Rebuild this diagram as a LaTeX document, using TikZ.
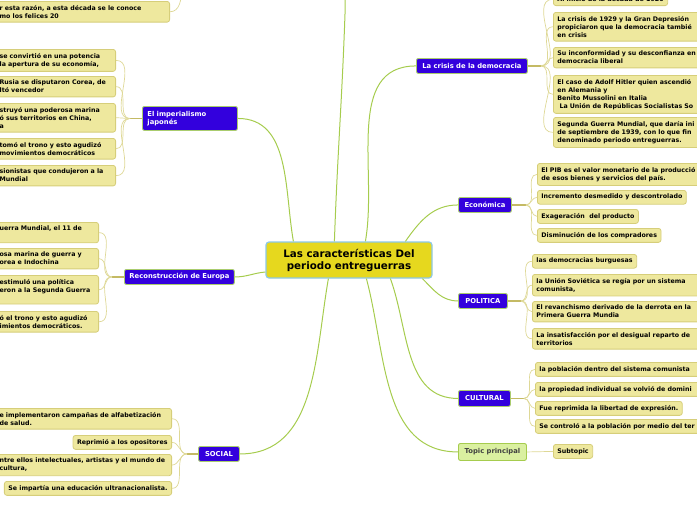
\documentclass[tikz,border=0pt]{standalone}
\usepackage{fontspec}
\setmainfont{DejaVu Sans}
\usetikzlibrary{positioning,calc}

\definecolor{rootbg}{RGB}{230,216,30}
\definecolor{rootbd}{RGB}{140,200,230}
\definecolor{mainbg}{RGB}{51,0,221}
\definecolor{mainbd}{RGB}{170,204,110}
\definecolor{leafbg}{RGB}{238,232,158}
\definecolor{leafbd}{RGB}{214,206,122}
\definecolor{twigc}{RGB}{222,216,150}
\definecolor{stemc}{RGB}{196,186,100}
\definecolor{linkc}{RGB}{166,204,78}
\definecolor{tpbg}{RGB}{218,240,160}

\begin{document}
\begin{tikzpicture}[x=1pt, y=1pt,
    rootbox/.style={draw=rootbd, fill=rootbg, line width=1.2pt, rounded corners=3pt, minimum width=166pt, minimum height=36pt, align=center, font=\fontsize{10.3}{12}\selectfont\bfseries},
    topicbox/.style={draw=mainbd, fill=mainbg, text=white, line width=0.9pt, rounded corners=2pt, minimum height=15pt, inner xsep=5pt, inner ysep=3pt, align=left, font=\fontsize{6.8}{8.5}\selectfont\bfseries},
    leafbox/.style={draw=leafbd, fill=leafbg, line width=0.8pt, rounded corners=2.5pt, inner xsep=4pt, inner ysep=3.8pt, align=left, font=\fontsize{6.3}{8}\selectfont\bfseries},
    twig/.style={draw=twigc, line width=0.7pt},
    stem/.style={draw=stemc, line width=1.6pt},
    link/.style={draw=linkc, line width=1pt}
]
\clip (0,0) rectangle (697,-520);

% centro
\node[rootbox] (root) at (349,-260) {Las características Del\\ periodo entreguerras};

% temas principales
\node[topicbox, anchor=north west, text width=85pt, minimum height=24pt] (imp) at (142,-106) {El imperialismo\\japonés};
\node[topicbox, anchor=north west] (rec) at (124,-269) {Reconstrucción de Europa};
\node[topicbox, anchor=north west, minimum width=41pt] (soc) at (198,-446) {SOCIAL};
\node[topicbox, anchor=north west, minimum width=111pt] (cri) at (416,-58) {La crisis de la democracia};
\node[topicbox, anchor=north west, minimum width=53pt] (eco) at (458,-197) {Económica};
\node[topicbox, anchor=north west, minimum width=49pt] (pol) at (458,-293) {POLITICA};
\node[topicbox, anchor=north west, minimum width=52pt, minimum height=16pt] (cul) at (458,-390) {CULTURAL};
\node[topicbox, anchor=north west, minimum width=68pt, minimum height=17pt, fill=tpbg, draw=linkc, text=black!75] (tpc) at (458,-443) {Topic principal};
\node[leafbox, anchor=north west, minimum width=39pt, minimum height=14pt] (sub) at (553,-444) {Subtopic};

% hoja arriba a la izquierda
\node[leafbox, anchor=north east, text width=166pt] (f1) at (170,-1) {r esta razón, a esta década se le conoce\\mo los felices 20};
\coordinate (fj) at (182,10);
\draw[twig] (f1.east) to[out=0,in=-95] (fj);

% imperialismo
\node[leafbox, anchor=north east, text width=112pt] (i1) at (116,-49) {se convirtió en una potencia\\la apertura de su economía,};
\node[leafbox, anchor=north east, text width=112pt] (i2) at (116,-76) {Rusia se disputaron Corea, de\\ltó vencedor};
\node[leafbox, anchor=north east, text width=112pt] (i3) at (116,-103) {struyó una poderosa marina\\ó sus territorios en China,\\a};
\node[leafbox, anchor=north east, text width=112pt] (i4) at (116,-138) {tomó el trono y esto agudizó\\movimientos democráticos};
\node[leafbox, anchor=north east, text width=112pt] (i5) at (116,-165) {sionistas que condujeron a la\\Mundial};

% reconstruccion
\node[leafbox, anchor=north east, text width=95pt] (r1) at (99,-222) {uerra Mundial, el 11 de\\\mbox{}};
\node[leafbox, anchor=north east, text width=95pt] (r2) at (99,-248) {osa marina de guerra y\\orea e Indochina};
\node[leafbox, anchor=north east, text width=95pt] (r3) at (99,-275) {estimuló una política\\eron a la Segunda Guerra\\\mbox{}};
\node[leafbox, anchor=north east, text width=95pt] (r4) at (99,-311) {ó el trono y esto agudizó\\imientos democráticos.};

% social
\node[leafbox, anchor=north east, text width=168pt] (s1) at (172,-408) {e implementaron campañas de alfabetización\\de salud.};
\node[leafbox, anchor=north east] (s2) at (172,-435) {Reprimió a los opositores};
\node[leafbox, anchor=north east, text width=168pt] (s3) at (172,-454) {ntre ellos intelectuales, artistas y el mundo de\\cultura,};
\node[leafbox, anchor=north east] (s4) at (172,-481) {Se impartía una educación ultranacionalista.};

% crisis
\node[leafbox, anchor=south west] (c0) at (553,-6) {Al inicio de la década de 1920};
\node[leafbox, anchor=north west, text width=200pt] (c1) at (553,-12) {La crisis de 1929 y la Gran Depresión\\propiciaron que la democracia tambié\\en crisis};
\node[leafbox, anchor=north west, text width=200pt] (c2) at (553,-47) {Su inconformidad y su desconfianza en\\democracia liberal};
\node[leafbox, anchor=north west, text width=200pt] (c3) at (553,-75) {El caso de Adolf Hitler quien ascendió\\en Alemania y\\Benito Mussolini en Italia\\\ La Unión de Repúblicas Socialistas So};
\node[leafbox, anchor=north west, text width=200pt] (c4) at (553,-117) {Segunda Guerra Mundial, que daría ini\\de septiembre de 1939, con lo que fin\\denominado periodo entreguerras.};

% economica
\node[leafbox, anchor=north west, text width=200pt] (e1) at (537,-163) {El PIB es el valor monetario de la producció\\de esos bienes y servicios del país.};
\node[leafbox, anchor=north west] (e2) at (537,-190) {Incremento desmedido y descontrolado};
\node[leafbox, anchor=north west] (e3) at (537,-209) {Exageración\ \ del producto};
\node[leafbox, anchor=north west] (e4) at (537,-228) {Disminución de los compradores};

% politica
\node[leafbox, anchor=north west] (p1) at (532,-254) {las democracias burguesas};
\node[leafbox, anchor=north west, text width=200pt] (p2) at (532,-274) {la Unión Soviética se regía por un sistema\\comunista,};
\node[leafbox, anchor=north west, text width=200pt] (p3) at (532,-301) {El revanchismo derivado de la derrota en la\\Primera Guerra Mundia};
\node[leafbox, anchor=north west, text width=200pt] (p4) at (532,-328) {La insatisfacción por el desigual reparto de\\territorios};

% cultural
\node[leafbox, anchor=north west, text width=200pt] (u1) at (535,-362) {la población dentro del sistema comunista};
\node[leafbox, anchor=north west, text width=200pt] (u2) at (535,-382) {la propiedad individual se volvió de domini};
\node[leafbox, anchor=north west] (u3) at (535,-401) {Fue reprimida la libertad de expresión.};
\node[leafbox, anchor=north west, text width=200pt] (u4) at (535,-419) {Se controló a la población por medio del ter};

% ramas desde el centro
\coordinate (up) at (345,-14);
\draw[link] ([xshift=28pt]root.north west) to[out=100,in=0] (imp.east);
\draw[link] ([xshift=69pt]root.north west) to[out=88,in=-92] (up) -- ++(0,20);
\draw[link] ([xshift=100pt]root.north west) to[out=80,in=180] (cri.west);
\draw[link] ([xshift=140pt]root.north west) to[out=55,in=180] (eco.west);
\draw[link] ([yshift=-12pt]root.west) to[out=185,in=0] (rec.east);
\draw[link] ([xshift=63pt]root.south west) to[out=-100,in=0] (soc.east);
\draw[link] ([xshift=101pt]root.south west) to[out=-75,in=180] (tpc.west);
\draw[link] ([xshift=125pt]root.south west) to[out=-70,in=180] (cul.west);
\draw[link] ([xshift=157pt]root.south west) to[out=-45,in=180] (pol.west);

% ramas hacia las hojas
\draw[stem] (imp.west) -- ++(-12,0) coordinate (impj);
\draw[stem] (rec.west) -- ++(-12,0) coordinate (recj);
\draw[stem] (soc.west) -- ++(-11,0) coordinate (socj);
\draw[stem] (cri.east) -- ++(13,0) coordinate (crij);
\draw[stem] (eco.east) -- ++(14,0) coordinate (ecoj);
\draw[stem] (pol.east) -- ++(13,0) coordinate (polj);
\draw[stem] (cul.east) -- ++(13,0) coordinate (culj);
\foreach \n in {i1,i2,i3,i4,i5} \draw[twig] (impj) to[out=180,in=0] (\n.east);
\foreach \n in {r1,r2,r3,r4} \draw[twig] (recj) to[out=180,in=0] (\n.east);
\foreach \n in {s1,s2,s3,s4} \draw[twig] (socj) to[out=180,in=0] (\n.east);
\foreach \n in {c0,c1,c2,c3,c4} \draw[twig] (crij) to[out=0,in=180] (\n.west);
\foreach \n in {e1,e2,e3,e4} \draw[twig] (ecoj) to[out=0,in=180] (\n.west);
\foreach \n in {p1,p2,p3,p4} \draw[twig] (polj) to[out=0,in=180] (\n.west);
\foreach \n in {u1,u2,u3,u4} \draw[twig] (culj) to[out=0,in=180] (\n.west);
\draw[twig] (tpc.east) -- (sub.west);
\end{tikzpicture}
\end{document}
